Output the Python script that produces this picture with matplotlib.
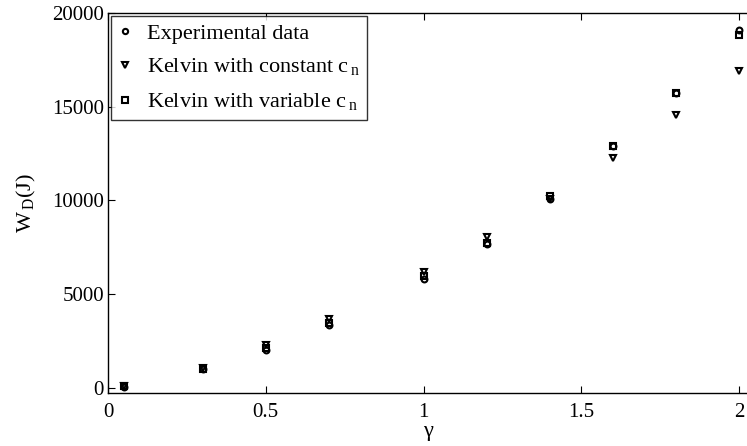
import numpy as np
import matplotlib
matplotlib.use("Agg")
import matplotlib.pyplot as plt

# Data
gamma = [0.05, 0.3, 0.5, 0.7, 1.0, 1.2, 1.4, 1.6, 1.8, 2.0]
exp_data = [80, 1000, 2050, 3360, 5830, 7680, 10100, 12920, 15730, 19100]
kelvin_const = [110, 1080, 2280, 3700, 6180, 8050, 10060, 12240, 14540, 16890]
kelvin_var = [90, 1030, 2150, 3460, 5960, 7720, 10260, 12900, 15720, 18830]

plt.rcParams['font.family'] = ['Liberation Serif', 'DejaVu Serif']
plt.rcParams['mathtext.fontset'] = 'custom'
plt.rcParams['mathtext.rm'] = 'Liberation Serif'
plt.rcParams['font.size'] = 14

fig = plt.figure(figsize=(7.47, 4.46), dpi=100)
ax = fig.add_axes([0.1446, 0.1188, 0.8554, 0.8521])

mk = dict(linestyle='none', color='black', markerfacecolor='none', markersize=4.2, markeredgewidth=1.5)
ax.plot(gamma, exp_data, marker='o', label='Experimental data', **mk)
ax.plot(gamma, kelvin_const, marker='v', label=r'Kelvin with constant c$_{\,\mathrm{n}}$', **mk)
ax.plot(gamma, kelvin_var, marker='s', label=r'Kelvin with variable c$_{\,\mathrm{n}}$', **mk)

ax.set_xlim(0, 2.025)
ax.set_ylim(-267, 20000)
ax.set_xticks([0, 0.5, 1, 1.5, 2])
ax.set_xticklabels(['0', '0.5', '1', '1.5', '2'])
ax.set_yticks([0, 5000, 10000, 15000, 20000])
ax.tick_params(direction='in', top=True, right=False, length=5, width=0.8, labelsize=15, pad=3)
ax.tick_params(axis='x', pad=7)
ax.spines['right'].set_visible(False)
for s in ['left', 'bottom', 'top']:
    ax.spines[s].set_linewidth(1.0)

ax.set_xlabel('γ', fontsize=16, labelpad=0)
ax.set_ylabel(r'W$_{\,\mathrm{D}}$(J)', fontsize=16, labelpad=10)

leg = ax.legend(loc='upper left', fontsize=16, frameon=True, fancybox=False,
                edgecolor='black', handlelength=0.6, handletextpad=0.7,
                borderpad=0.3, labelspacing=0.6, borderaxespad=0.15,
                markerscale=0.9)
leg.get_frame().set_linewidth(1.0)

fig.savefig('out.png', dpi=100)
